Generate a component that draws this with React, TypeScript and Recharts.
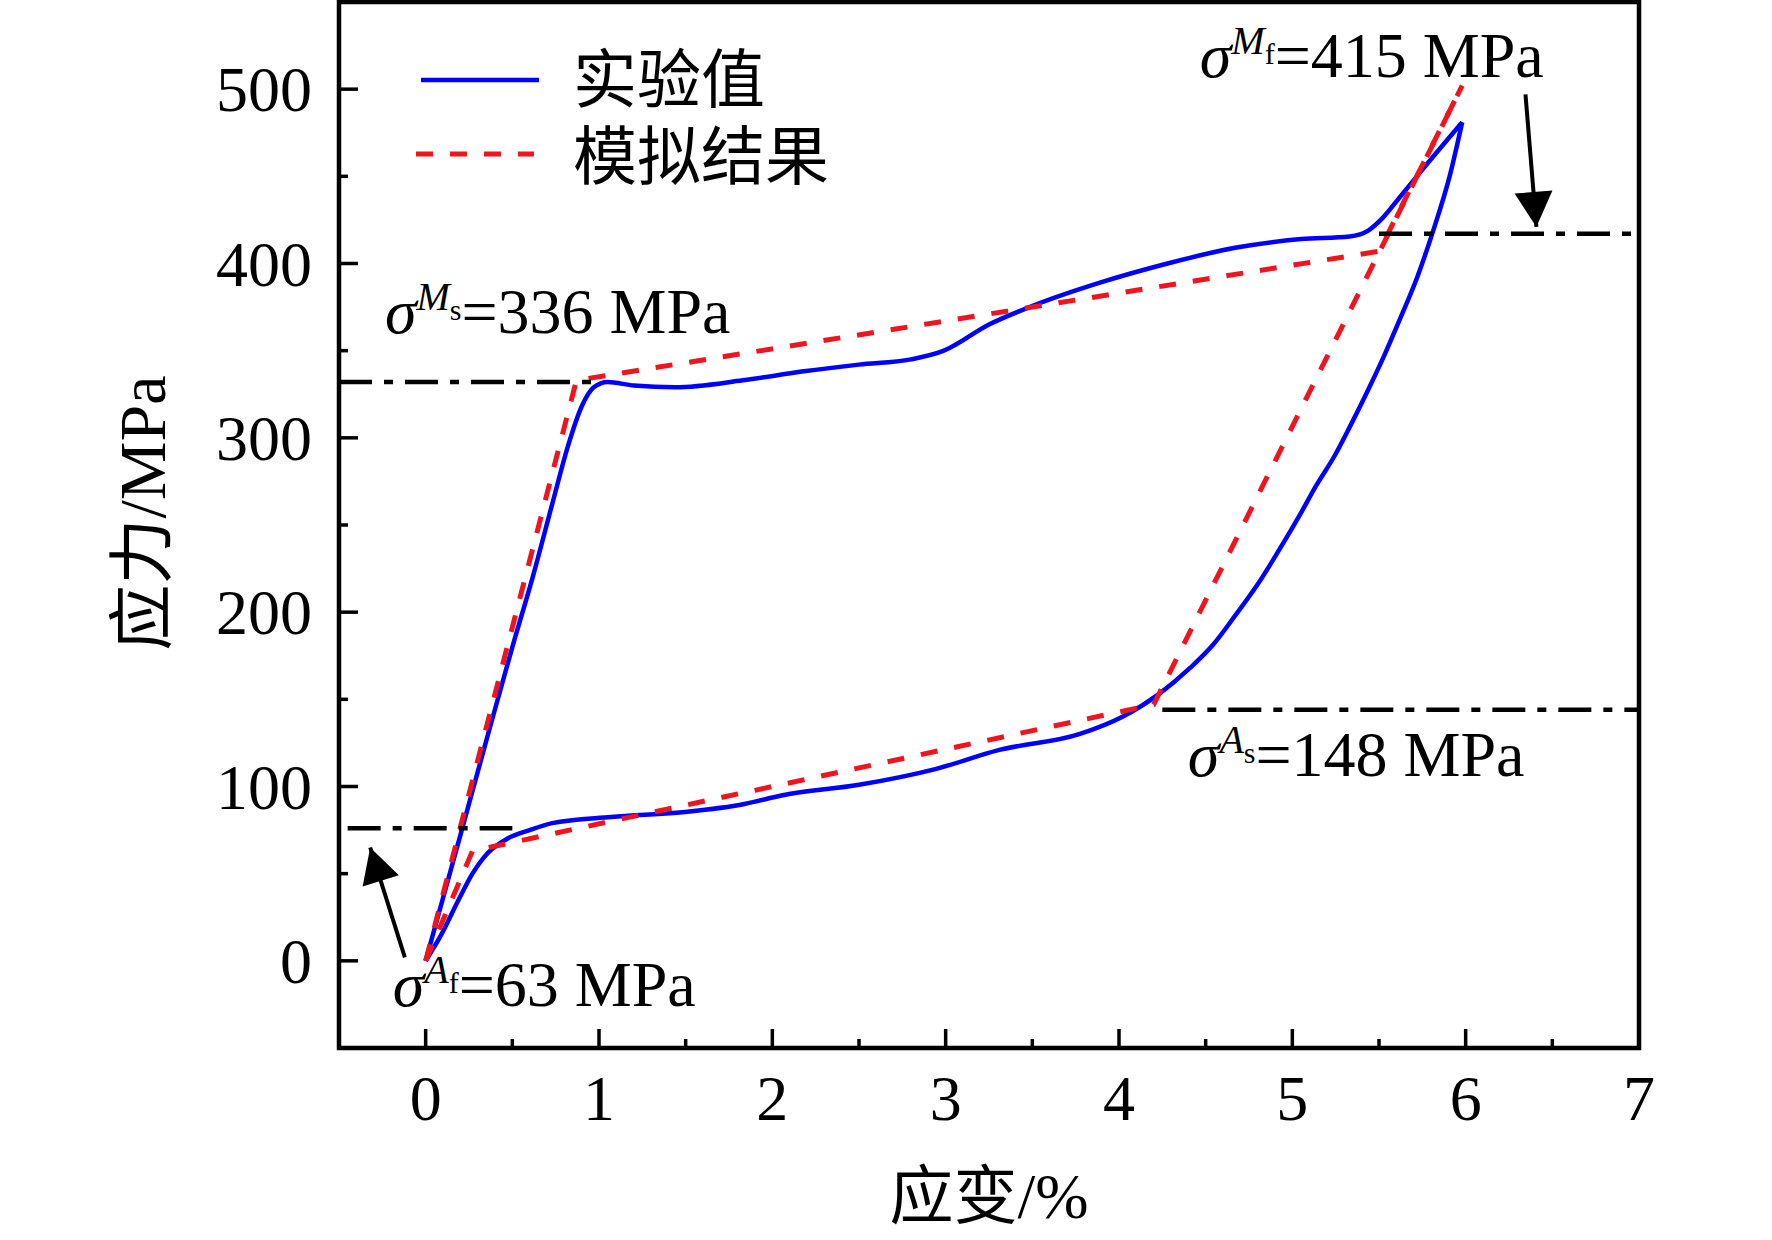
import { LineChart, Line, XAxis, YAxis, ReferenceArea, ReferenceDot, Legend } from 'recharts';

// strain (%) / stress (MPa) pairs
const expLoading = [
  [0, 0], [0.2, 72], [0.36, 130], [0.5, 180], [0.62, 221], [0.73, 262], [0.82, 295],
  [0.9, 318], [0.97, 329], [1.05, 332], [1.2, 330], [1.44, 329], [1.83, 333], [2.17, 338],
  [2.5, 342], [2.8, 345], [2.99, 350], [3.25, 365], [3.51, 376], [3.89, 389], [4.28, 400],
  [4.67, 409], [5.05, 414], [5.33, 415.5], [5.44, 419], [5.52, 426], [5.62, 438], [5.76, 455],
  [5.98, 481],
];
const expUnloading = [
  [0, 0], [0.09, 15], [0.18, 33], [0.27, 50], [0.36, 62], [0.47, 70], [0.6, 75], [0.73, 79],
  [1.07, 82.5], [1.51, 85.5], [1.84, 90], [2.06, 95], [2.5, 101], [2.94, 110], [3.31, 121],
  [3.77, 130], [4.02, 140], [4.23, 153], [4.41, 168], [4.54, 181], [4.67, 198], [4.8, 216],
  [4.95, 240], [5.05, 257], [5.14, 273], [5.24, 289], [5.33, 306], [5.43, 326], [5.52, 345],
  [5.62, 368], [5.72, 392], [5.81, 418], [5.91, 451], [5.98, 481],
];
const simLoading = [[0, 0], [0.87, 333], [5.5, 407], [5.98, 502]];
const simUnloading = [[0, 0], [0.27, 63], [4.2, 147], [5.98, 502]];

// dash-dot marker lines for the transformation stresses
const lineMs = [[-0.5, 332], [1.0, 332]];
const lineMf = [[5.5, 417], [7, 417]];
const lineAs = [[4.25, 144], [7, 144]];
const lineAf = [[-0.45, 76], [0.5, 76]];

// arrows: tail, tip
const arrowAf = [[-0.12, 2], [-0.32, 65]];
const arrowMf = [[6.345, 497], [6.408, 421]];

// annotation labels: anchor (start, baseline), superscript, subscript, rest
const notes = [
  { x: -0.235, y: 360, sup: 'M', sub: 's', rest: '=336 MPa' },
  { x: 4.466, y: 507, sup: 'M', sub: 'f', rest: '=415 MPa' },
  { x: 4.397, y: 106, sup: 'A', sub: 's', rest: '=148 MPa' },
  { x: -0.19, y: -26, sup: 'A', sub: 'f', rest: '=63 MPa' },
];

const xTicks = [0, 0.5, 1, 1.5, 2, 2.5, 3, 3.5, 4, 4.5, 5, 5.5, 6, 6.5, 7];
const yTicks = [0, 50, 100, 150, 200, 250, 300, 350, 400, 450, 500];

const toXY = (arr: number[][]) => arr.map(([x, y]) => ({ x, y }));

const SERIF = "'Liberation Serif', 'Times New Roman', 'Noto Sans CJK SC', serif";
const CJK = "'Noto Sans CJK SC', 'Liberation Serif', sans-serif";
const BLUE = '#0000ff';
const RED = '#f0141e';
const RED_DASH = '17 17';
const DASH_DOT = '33 12 9 12';

const isMajorX = (v: number) => Number.isInteger(v);
const isMajorY = (v: number) => v % 100 === 0;

function BottomTick(p: any) {
  const v = p.payload.value;
  const major = isMajorX(v);
  return (
    <g>
      <line x1={p.x} x2={p.x} y1={p.y} y2={p.y - (major ? 19 : 9)} stroke="#000" strokeWidth={3.5} />
      {major && (
        <text x={p.x} y={p.y + 72} textAnchor="middle" fontFamily={SERIF} fontSize={64} fill="#000">
          {v}
        </text>
      )}
    </g>
  );
}

function TopTick(p: any) {
  const major = isMajorX(p.payload.value);
  return <line x1={p.x} x2={p.x} y1={p.y} y2={p.y + (major ? 19 : 9)} stroke="#000" strokeWidth={3.5} />;
}

function LeftTick(p: any) {
  const v = p.payload.value;
  const major = isMajorY(v);
  return (
    <g>
      <line x1={p.x} x2={p.x + (major ? 19 : 9)} y1={p.y} y2={p.y} stroke="#000" strokeWidth={3.5} />
      {major && (
        <text x={p.x - 27} y={p.y + 22} textAnchor="end" fontFamily={SERIF} fontSize={64} fill="#000">
          {v}
        </text>
      )}
    </g>
  );
}

function RightTick(p: any) {
  const major = isMajorY(p.payload.value);
  return <line x1={p.x} x2={p.x - (major ? 19 : 9)} y1={p.y} y2={p.y} stroke="#000" strokeWidth={3.5} />;
}

function ArrowHead(props: any) {
  const { cx, cy, index, points } = props;
  if (index !== 1 || cx == null || cy == null) return <g key={props.key} />;
  const p0 = points && points[0];
  const ang = p0 ? Math.atan2(cy - p0.y, cx - p0.x) : Math.PI / 2;
  const L = 35;
  const W = 19;
  const bx = cx - L * Math.cos(ang);
  const by = cy - L * Math.sin(ang);
  const nx = -Math.sin(ang) * W;
  const ny = Math.cos(ang) * W;
  return (
    <polygon
      key={props.key}
      points={`${cx},${cy} ${bx + nx},${by + ny} ${bx - nx},${by - ny}`}
      fill="#000"
    />
  );
}

function SigmaLabel(props: any) {
  const { cx, cy, note } = props;
  return (
    <text x={cx} y={cy} fontFamily={SERIF} fontSize={64} fill="#000">
      <tspan fontStyle="italic">σ</tspan>
      <tspan fontStyle="italic" fontSize={40} dy={-23}>{note.sup}</tspan>
      <tspan fontSize={30} dy={10}>{note.sub}</tspan>
      <tspan dy={13}>{note.rest}</tspan>
    </text>
  );
}

function LegendBox() {
  return (
    <svg width={480} height={200} style={{ overflow: 'visible' }}>
      <line x1={21} x2={139} y1={50} y2={50} stroke={BLUE} strokeWidth={4.5} />
      <text x={173} y={72} fontFamily={CJK} fontSize={64} fill="#000">实验值</text>
      <line x1={16} x2={134} y1={124} y2={124} stroke={RED} strokeWidth={5} strokeDasharray={RED_DASH} />
      <text x={173} y={149} fontFamily={CJK} fontSize={64} fill="#000">模拟结果</text>
    </svg>
  );
}

export default function App() {
  return (
    <div style={{ position: 'absolute', left: 0, top: 0, background: '#fff' }}>
      <LineChart width={1772} height={1240} margin={{ top: 2, right: 133, bottom: 0, left: 0 }}>
        <XAxis
          dataKey="x"
          type="number"
          domain={[-0.5, 7]}
          allowDataOverflow
          ticks={xTicks}
          interval={0}
          height={192}
          axisLine={false}
          tickLine={false}
          tickSize={0}
          tickMargin={0}
          tick={BottomTick}
          label={{
            content: (lp: any) => {
              const vb = lp.viewBox || { x: 339, y: 1048, width: 1300 };
              return (
                <text x={vb.x + vb.width / 2} y={vb.y + 170} textAnchor="middle" fontFamily={SERIF} fontSize={64} fill="#000">
                  应变/%
                </text>
              );
            },
          }}
        />
        <XAxis
          xAxisId="top"
          orientation="top"
          dataKey="x"
          type="number"
          domain={[-0.5, 7]}
          allowDataOverflow
          ticks={xTicks}
          interval={0}
          height={0}
          axisLine={false}
          tickLine={false}
          tickSize={0}
          tickMargin={0}
          tick={TopTick}
        />
        <YAxis
          type="number"
          domain={[-50, 550]}
          allowDataOverflow
          ticks={yTicks}
          interval={0}
          width={339}
          axisLine={false}
          tickLine={false}
          tickSize={0}
          tickMargin={0}
          tick={LeftTick}
          label={{
            content: (lp: any) => {
              const vb = lp.viewBox || { x: 0, y: 2, width: 339, height: 1046 };
              const cx = 165;
              const cy = vb.y + vb.height / 2 - 12;
              return (
                <text x={cx} y={cy} transform={`rotate(-90, ${cx}, ${cy})`} textAnchor="middle" fontFamily={SERIF} fontSize={66} fill="#000">
                  应力/MPa
                </text>
              );
            },
          }}
        />
        <YAxis
          yAxisId="right"
          orientation="right"
          type="number"
          domain={[-50, 550]}
          allowDataOverflow
          ticks={yTicks}
          interval={0}
          width={0}
          axisLine={false}
          tickLine={false}
          tickSize={0}
          tickMargin={0}
          tick={RightTick}
        />
        <ReferenceArea x1={-0.5} x2={7} y1={-50} y2={550} fill="none" stroke="#000" strokeWidth={4.5} fillOpacity={0} />

        <Line data={toXY(expLoading)} dataKey="y" type="monotone" stroke={BLUE} strokeWidth={4.5} dot={false} isAnimationActive={false} />
        <Line data={toXY(expUnloading)} dataKey="y" type="monotone" stroke={BLUE} strokeWidth={4.5} dot={false} isAnimationActive={false} />
        <Line data={toXY(simLoading)} dataKey="y" type="linear" stroke={RED} strokeWidth={5} strokeDasharray={RED_DASH} dot={false} isAnimationActive={false} />
        <Line data={toXY(simUnloading)} dataKey="y" type="linear" stroke={RED} strokeWidth={5} strokeDasharray={RED_DASH} dot={false} isAnimationActive={false} />

        {[lineMs, lineMf, lineAs, lineAf].map((seg, i) => (
          <Line
            key={`dd-${i}`}
            data={toXY(seg)}
            dataKey="y"
            type="linear"
            stroke="#000"
            strokeWidth={4.5}
            strokeDasharray={DASH_DOT}
            dot={false}
            isAnimationActive={false}
          />
        ))}
        {[arrowAf, arrowMf].map((seg, i) => (
          <Line
            key={`ar-${i}`}
            data={toXY(seg)}
            dataKey="y"
            type="linear"
            stroke="#000"
            strokeWidth={4}
            dot={ArrowHead}
            isAnimationActive={false}
          />
        ))}
        {notes.map((n, i) => (
          <ReferenceDot
            key={`note-${i}`}
            x={n.x}
            y={n.y}
            r={0}
            ifOverflow="visible"
            shape={(sp: any) => <SigmaLabel {...sp} note={n} />}
          />
        ))}
        <Legend
          layout="vertical"
          align="center"
          verticalAlign="middle"
          content={() => <LegendBox />}
          wrapperStyle={{ left: 400, top: 30, width: 480, height: 200 }}
        />
      </LineChart>
    </div>
  );
}
